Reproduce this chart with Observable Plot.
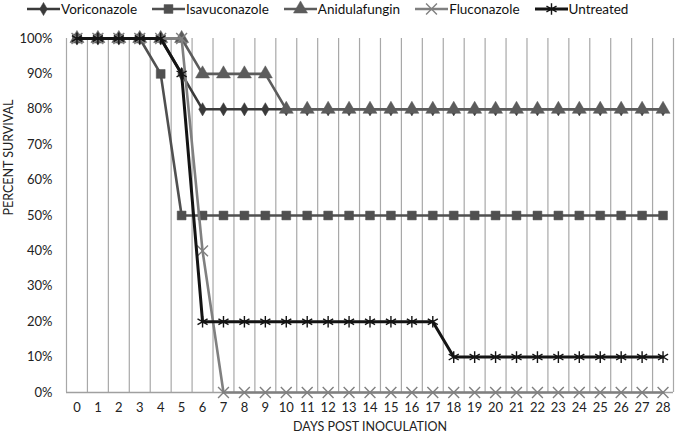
<!DOCTYPE html>
<html>
<head>
<meta charset="utf-8">
<script src="https://cdn.jsdelivr.net/npm/d3@7"></script>
<script src="https://cdn.jsdelivr.net/npm/@observablehq/plot@0.6"></script>
<style>
  html, body { margin: 0; padding: 0; background: #fff; }
  body { width: 675px; height: 436px; overflow: hidden; font-family: Lato, "Open Sans", sans-serif; }
  #legend { height: 26px; display: flex; align-items: flex-start; padding-left: 27px; gap: 15px; font-size: 13.5px; color: #111; line-height: 18px; }
  #legend .item { display: flex; align-items: center; }
  #legend svg { display: block; margin-right: 1px; }
</style>
</head>
<body>
<div id="legend"></div>
<div id="chart"></div>
<script>
const days = [0,1,2,3,4,5,6,7,8,9,10,11,12,13,14,15,16,17,18,19,20,21,22,23,24,25,26,27,28];
const seriesNames = ["Voriconazole", "Isavuconazole", "Anidulafungin", "Fluconazole", "Untreated"];
const voriconazole  = [100,100,100,100,100,90,80,80,80,80,80,80,80,80,80,80,80,80,80,80,80,80,80,80,80,80,80,80,80];
const isavuconazole = [100,100,100,100,90,50,50,50,50,50,50,50,50,50,50,50,50,50,50,50,50,50,50,50,50,50,50,50,50];
const anidulafungin = [100,100,100,100,100,100,90,90,90,90,80,80,80,80,80,80,80,80,80,80,80,80,80,80,80,80,80,80,80];
const fluconazole   = [100,100,100,100,100,100,40,0,0,0,0,0,0,0,0,0,0,0,0,0,0,0,0,0,0,0,0,0,0];
const untreated     = [100,100,100,100,100,90,20,20,20,20,20,20,20,20,20,20,20,20,10,10,10,10,10,10,10,10,10,10,10];
const yTicks = [0,10,20,30,40,50,60,70,80,90,100];

const values = [voriconazole, isavuconazole, anidulafungin, fluconazole, untreated];
const styles = {
  Voriconazole:  {stroke: "#3a3a3a", symbol: "diamond",  r: 4.0, fill: true,  width: 2.6},
  Isavuconazole: {stroke: "#505050", symbol: "square",   r: 5.0, fill: true,  width: 2.6},
  Anidulafungin: {stroke: "#5c5c5c", symbol: "triangle", r: 5.2, fill: true,  width: 2.6},
  Fluconazole:   {stroke: "#808080", symbol: "times",    r: 5.0, fill: false, width: 2.6},
  Untreated:     {stroke: "#141414", symbol: "asterisk", r: 5.5, fill: false, width: 3}
};

const data = [];
seriesNames.forEach((name, si) => {
  days.forEach((d, i) => data.push({series: name, day: d, value: values[si][i] / 100}));
});

const boundaries = [days[0] - 0.5, ...days.map(d => d + 0.5)];
const font = "Lato, 'Open Sans', sans-serif";

const marks = [
  Plot.ruleX(boundaries, {stroke: "#a8a8a8", strokeWidth: 1.2}),
  Plot.ruleY([0], {stroke: "#a0a0a0", strokeWidth: 1.5}),
  Plot.axisX({ticks: days, tickSize: 0, tickPadding: 10, tickFormat: d => String(d), label: null, fontSize: 13, fill: "#222"}),
  Plot.axisY({ticks: yTicks.map(v => v / 100), tickSize: 0, tickPadding: 14, tickFormat: d => Math.round(d * 100) + "%", label: null, fontSize: 13, fill: "#222"}),
  Plot.text(["DAYS POST INOCULATION"], {frameAnchor: "bottom", dy: 38, fontSize: 12.5, fill: "#222"}),
  Plot.text(["PERCENT SURVIVAL"], {frameAnchor: "left", dx: -58, rotate: -90, fontSize: 12.5, fill: "#222"})
];
seriesNames.forEach(name => {
  const s = styles[name];
  const rows = data.filter(d => d.series === name);
  marks.push(Plot.line(rows, {x: "day", y: "value", stroke: s.stroke, strokeWidth: s.width, strokeLinejoin: "miter"}));
  marks.push(Plot.dot(rows, {x: "day", y: "value", symbol: () => s.symbol, r: s.r,
    fill: s.fill ? s.stroke : "none", stroke: s.stroke, strokeWidth: s.fill ? 0.5 : 1.4}));
});

const chart = Plot.plot({
  width: 675,
  height: 410,
  marginLeft: 66,
  marginRight: 2,
  marginTop: 12,
  marginBottom: 44,
  style: {fontFamily: font, fontSize: "13px", background: "#fff", overflow: "visible"},
  x: {domain: [days[0] - 0.5, days[days.length - 1] + 0.5]},
  y: {domain: [0, 1]},
  symbol: {type: "identity"},
  marks
});
document.getElementById("chart").appendChild(chart);

// legend
const legend = d3.select("#legend");
seriesNames.forEach(name => {
  const s = styles[name];
  const item = legend.append("div").attr("class", "item");
  const svg = item.append("svg").attr("width", 33).attr("height", 18);
  svg.append("line").attr("x1", 0).attr("x2", 33).attr("y1", 9).attr("y2", 9)
    .attr("stroke", s.stroke).attr("stroke-width", s.width);
  const symMap = {diamond: d3.symbolDiamond, square: d3.symbolSquare, triangle: d3.symbolTriangle, times: d3.symbolTimes, asterisk: d3.symbolAsterisk};
  svg.append("path").attr("transform", "translate(16.5,9)")
    .attr("d", d3.symbol(symMap[s.symbol], Math.PI * s.r * s.r)())
    .attr("fill", s.fill ? s.stroke : "none").attr("stroke", s.stroke).attr("stroke-width", s.fill ? 0.5 : 1.4);
  item.append("span").text(name);
});
</script>
</body>
</html>
